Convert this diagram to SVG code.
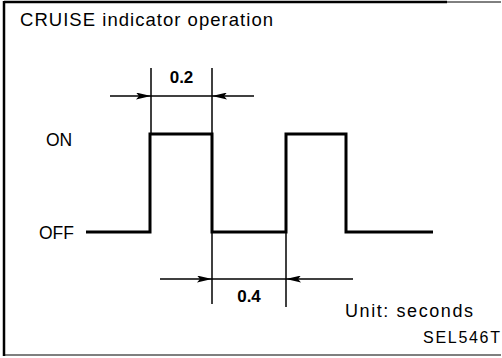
<svg xmlns="http://www.w3.org/2000/svg" width="502" height="358" viewBox="0 0 502 358">
<defs>
<style>
.t{font-family:"Liberation Sans",Arial,sans-serif;fill:#000}
.b{font-weight:bold}
.wave{fill:none;stroke:#000;stroke-width:3;stroke-linejoin:miter}
.dim{fill:none;stroke:#000;stroke-width:1.5}
.frame{fill:none;stroke:#000}
</style>
<marker id="ah" viewBox="0 0 15 7" refX="15" refY="3.5" markerWidth="15" markerHeight="7" markerUnits="userSpaceOnUse" orient="auto">
<path d="M0,0 L15,3.5 L0,7 L3,3.5 Z" fill="#000"/>
</marker>
</defs>
<g id="frame">
<line class="frame" x1="4" y1="2" x2="447" y2="2" stroke-width="2.5"/>
<line class="frame" x1="447" y1="2" x2="501" y2="2" stroke-width="1"/>
<line class="frame" x1="4" y1="1" x2="4" y2="356" stroke-width="2.5"/>
<line class="frame" x1="4" y1="355" x2="501" y2="355" stroke-width="1.2"/>
</g>
<g id="title"><text class="t" x="20" y="26" font-size="18.5" textLength="253" lengthAdjust="spacing">CRUISE indicator operation</text></g>
<g id="label-on"><text class="t" x="46" y="146" font-size="17.5">ON</text></g>
<g id="label-off"><text class="t" x="39" y="239" font-size="17.5">OFF</text></g>
<g id="waveform">
<polyline class="wave" points="86,232 150,232 150,134 212,134 212,232 286,232 286,134 346,134 346,232 433,232"/>
</g>
<g id="connectors">
<line class="dim" x1="151" y1="68" x2="151" y2="134"/>
<line class="dim" x1="212" y1="68" x2="212" y2="134"/>
<line class="dim" x1="110" y1="96" x2="151" y2="96" marker-end="url(#ah)"/>
<line class="dim" x1="254" y1="96" x2="212" y2="96" marker-end="url(#ah)"/>
<line class="dim" x1="151" y1="96" x2="212" y2="96"/>
<line class="dim" x1="212" y1="232" x2="212" y2="304"/>
<line class="dim" x1="286" y1="232" x2="286" y2="307"/>
<line class="dim" x1="160" y1="279" x2="212" y2="279" marker-end="url(#ah)"/>
<line class="dim" x1="353" y1="279" x2="286" y2="279" marker-end="url(#ah)"/>
<line class="dim" x1="212" y1="279" x2="286" y2="279"/>
</g>
<g id="label-02"><text class="t b" x="181.5" y="83" font-size="17" text-anchor="middle">0.2</text></g>
<g id="label-04"><text class="t b" x="249" y="302" font-size="17" text-anchor="middle">0.4</text></g>
<g id="unit"><text class="t" x="345" y="317" font-size="18" textLength="128" lengthAdjust="spacing">Unit: seconds</text></g>
<g id="code"><text class="t" x="423" y="343" font-size="16" textLength="77" lengthAdjust="spacing">SEL546T</text></g>
</svg>
